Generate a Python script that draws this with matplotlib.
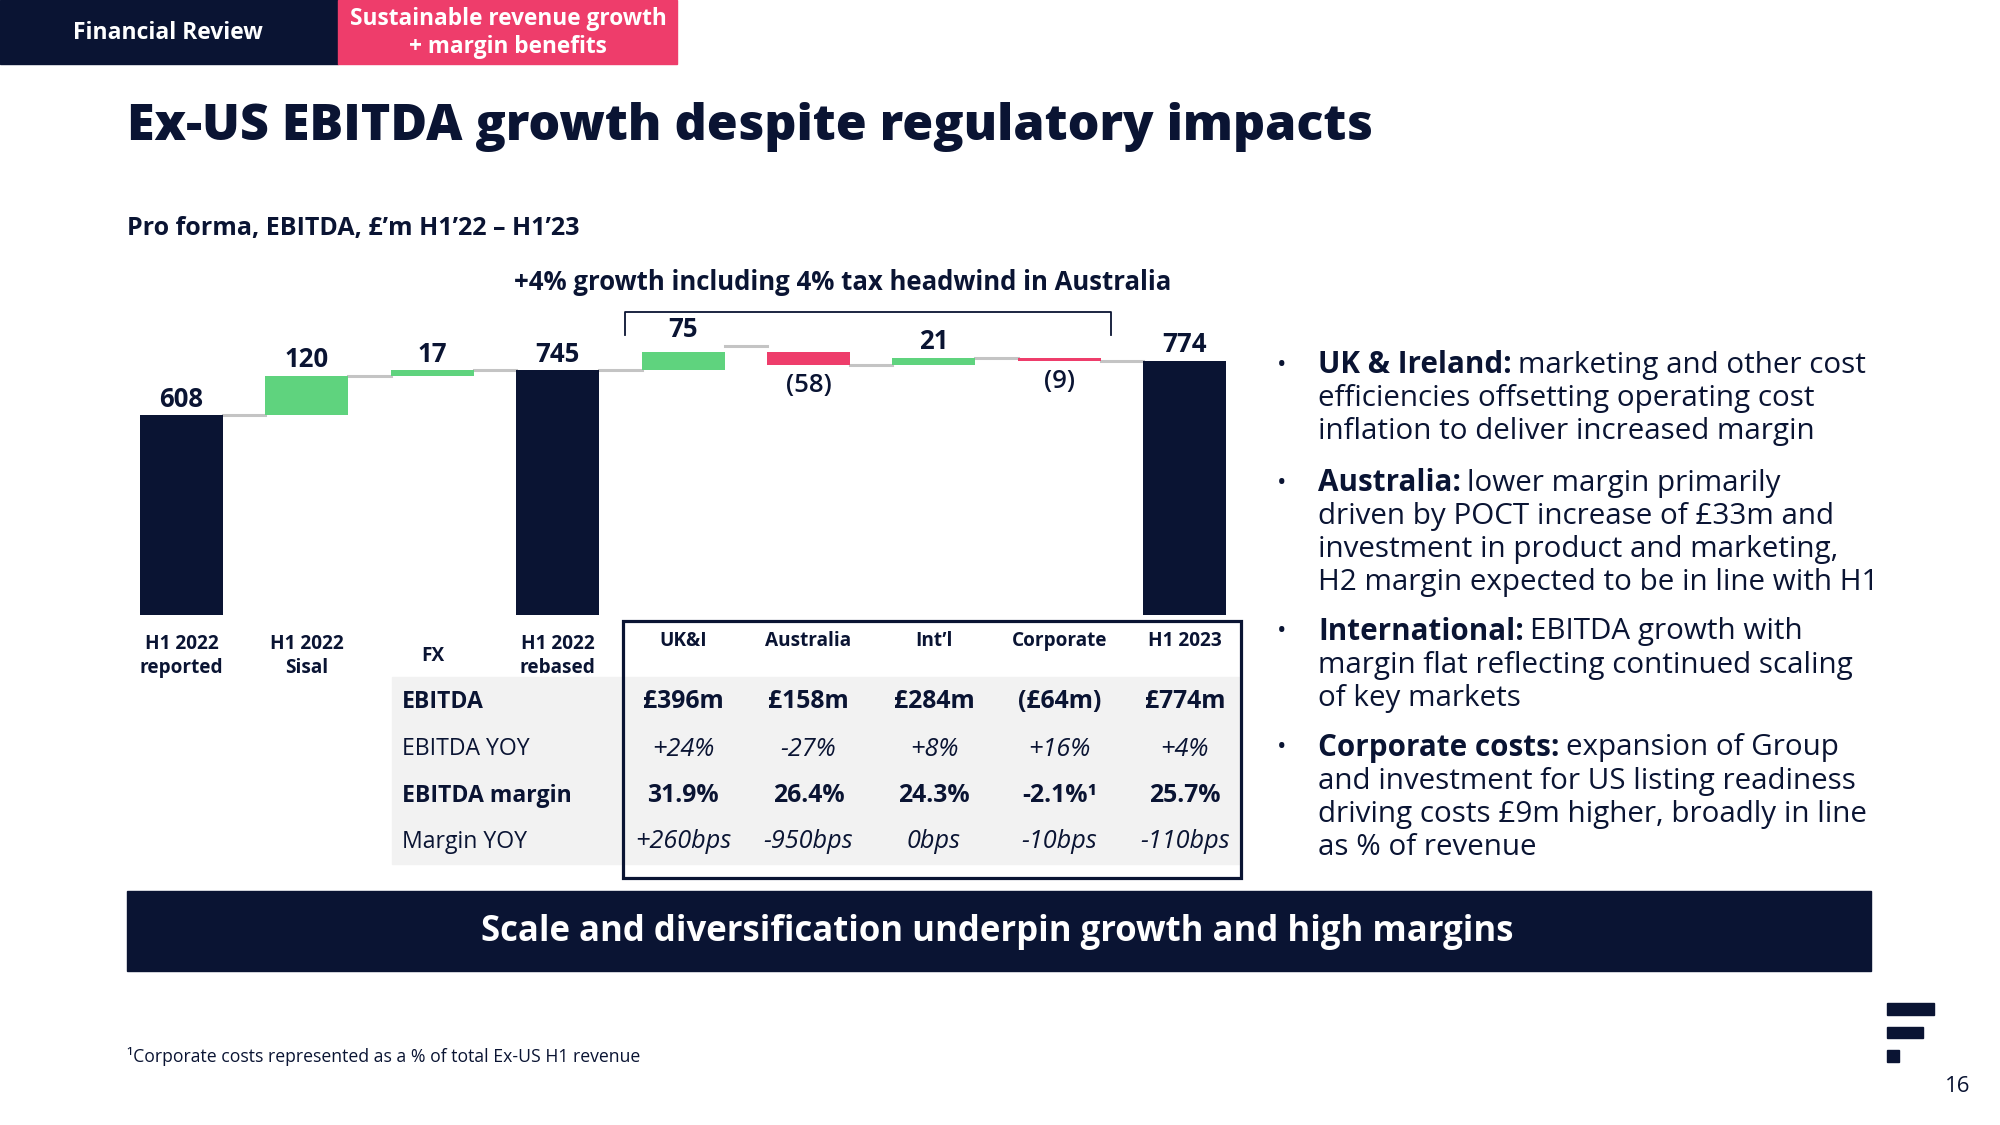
import matplotlib
matplotlib.use('Agg')
import matplotlib.pyplot as plt
import matplotlib.transforms as mtransforms
from matplotlib.patches import Rectangle

plt.rcParams['font.family'] = ['Open Sans', 'DejaVu Sans']

NAVY = '#0A1433'
PINK = '#EE3D6B'
GREEN = '#5FD37E'
GREY_LINE = '#C4C4C4'
BAND = '#F2F2F2'

# waterfall data
categories = ['H1 2022\nreported', 'H1 2022\nSisal', 'FX', 'H1 2022\nrebased',
              'UK&I', 'Australia', 'Int’l', 'Corporate', 'H1 2023']
values = [608, 120, 17, 745, 75, -58, 21, -9, 774]
is_total = [True, False, False, True, False, False, False, False, True]

# table data (columns UK&I .. H1 2023)
row_labels = ['EBITDA', 'EBITDA YOY', 'EBITDA margin', 'Margin YOY']
ebitda = ['£396m', '£158m', '£284m', '(£64m)', '£774m']
ebitda_yoy = ['+24%', '-27%', '+8%', '+16%', '+4%']
ebitda_margin = ['31.9%', '26.4%', '24.3%', '-2.1%¹', '25.7%']
margin_yoy = ['+260bps', '-950bps', '0bps', '-10bps', '-110bps']

bullet_heads = ['UK & Ireland:', 'Australia:', 'International:', 'Corporate costs:']
bullet_lines = [
    ['marketing and other cost', 'efficiencies offsetting operating cost',
     'inflation to deliver increased margin'],
    ['lower margin primarily', 'driven by POCT increase of £33m and',
     'investment in product and marketing,', 'H2 margin expected to be in line with H1'],
    ['EBITDA growth with', 'margin flat reflecting continued scaling', 'of key markets'],
    ['expansion of Group', 'and investment for US listing readiness',
     'driving costs £9m higher, broadly in line', 'as % of revenue'],
]

fig = plt.figure(figsize=(20, 11.25), dpi=100)

# background axes in pixel coordinates (origin top-left)
bg = fig.add_axes([0, 0, 1, 1])
bg.set_xlim(0, 2000)
bg.set_ylim(1125, 0)
bg.axis('off')

# header tabs
bg.add_patch(Rectangle((0, 0), 338, 64, color=NAVY))
bg.add_patch(Rectangle((338, 0), 339, 64, color=PINK))
bg.text(168, 33, 'Financial Review', color='white', fontsize=16.5, fontweight='bold',
        ha='center', va='center')
bg.text(508, 33, 'Sustainable revenue growth\n+ margin benefits', color='white',
        fontsize=16.3, fontweight='bold', ha='center', va='center', linespacing=1.2)

# titles
bg.text(127, 127, 'Ex-US EBITDA growth despite regulatory impacts', color=NAVY,
        fontsize=36.1, fontweight='heavy', ha='left', va='center')
bg.text(127, 229, 'Pro forma, EBITDA, £’m H1’22 – H1’23', color=NAVY,
        fontsize=18, fontweight='bold', ha='left', va='center')
bg.text(843, 282, '+4% growth including 4% tax headwind in Australia', color=NAVY,
        fontsize=18.5, fontweight='bold', ha='center', va='center')

# bracket
bg.plot([625, 625, 1111, 1111], [335, 312, 312, 335], color=NAVY, lw=1.3,
        solid_joinstyle='round')

# waterfall axes: baseline at y=615px, 0.3285 px per £m
scale = 0.3285
ymax = 800
left_px, right_px = 118.8, 1247.5
base_px = 615
top_px = base_px - ymax * scale
ax = fig.add_axes([left_px / 2000, 1 - base_px / 1125,
                   (right_px - left_px) / 2000, (base_px - top_px) / 1125])
ax.set_xlim(-0.5, 8.5)
ax.set_ylim(0, ymax)
ax.axis('off')
ax.patch.set_alpha(0)

width = 0.662
cum = 0
levels = []
for i, (v, tot) in enumerate(zip(values, is_total)):
    if tot:
        bottom, height, color = 0, v, NAVY
        cum = v
    else:
        bottom = cum if v > 0 else cum + v
        height = abs(v)
        color = GREEN if v > 0 else PINK
        cum = cum + v
    ax.bar(i, height, bottom=bottom, width=width, color=color, zorder=3)
    levels.append(cum)
    label = f'({abs(v)})' if v < 0 else str(v)
    if v < 0:
        ax.annotate(label, (i, bottom), xytext=(0, -15), textcoords='offset points',
                    ha='center', va='center', fontsize=18.5, fontweight='semibold',
                    color=NAVY, annotation_clip=False)
    else:
        ax.annotate(label, (i, bottom + height), xytext=(0, 11.5), textcoords='offset points',
                    ha='center', va='center', fontsize=18.5, fontweight='bold',
                    color=NAVY, annotation_clip=False)

for i in range(len(values) - 1):
    ax.plot([i + width / 2, i + 1 - width / 2], [levels[i], levels[i]],
            color=GREY_LINE, lw=2.2, zorder=2, clip_on=False)

trans = mtransforms.blended_transform_factory(ax.transData, bg.transData)

# table background and box
bg.add_patch(Rectangle((392, 677), 849, 187, color=BAND, zorder=0))
bg.add_patch(Rectangle((623, 621), 618, 257, fill=False, ec=NAVY, lw=2.3, zorder=5))

# category labels
for i, cat in enumerate(categories):
    y = 656 if i < 4 else 641
    bg.text(i, y, cat, transform=trans, ha='center', va='center', fontsize=13.7,
            fontweight='bold', color=NAVY, linespacing=1.3)

# table rows
row_y = [702, 749, 796, 842]
row_weights = ['bold', 'normal', 'bold', 'normal']
row_styles = ['normal', 'italic', 'normal', 'italic']
row_values = [ebitda, ebitda_yoy, ebitda_margin, margin_yoy]
for lab, y, w, st, vals in zip(row_labels, row_y, row_weights, row_styles, row_values):
    bg.text(402, y, lab, ha='left', va='center', fontsize=16.6, fontweight=w, color=NAVY)
    for j, val in enumerate(vals):
        bg.text(4 + j, y, val, transform=trans, ha='center', va='center',
                fontsize=17.8 if w == 'bold' else 18.2,
                fontweight=w, fontstyle=st, color=NAVY)

# bullets on the right
renderer = fig.canvas.get_renderer()
para_tops = [365, 483, 632, 748]
line_gap = 33.2
for head, lines, y0 in zip(bullet_heads, bullet_lines, para_tops):
    bg.text(1277, y0, '•', ha='left', va='center', fontsize=18, color=NAVY)
    t = bg.text(1318, y0, head, ha='left', va='center', fontsize=21.3, fontweight='bold',
                color=NAVY)
    ext = t.get_window_extent(renderer)
    bg.text(1318 + ext.width + 6, y0, lines[0], ha='left', va='center', fontsize=21.3,
            color=NAVY)
    for k, line in enumerate(lines[1:], start=1):
        bg.text(1318, y0 + k * line_gap, line, ha='left', va='center', fontsize=21.3,
                color=NAVY)

# bottom banner
bg.add_patch(Rectangle((127, 891), 1744, 80, color=NAVY))
bg.text(997, 932, 'Scale and diversification underpin growth and high margins',
        color='white', fontsize=25, fontweight='bold', ha='center', va='center')

# footnote
bg.text(127, 1056, '¹Corporate costs represented as a % of total Ex-US H1 revenue',
        color=NAVY, fontsize=12.7, ha='left', va='center')

# logo and page number
bg.add_patch(Rectangle((1887, 1003), 47, 11.5, color=NAVY))
bg.add_patch(Rectangle((1887, 1026.5), 36, 11.5, color=NAVY))
bg.add_patch(Rectangle((1887, 1049.5), 12, 12, color=NAVY))
bg.text(1958, 1086, '16', color=NAVY, fontsize=16, ha='center', va='center')

fig.savefig('out.png', dpi=100)
